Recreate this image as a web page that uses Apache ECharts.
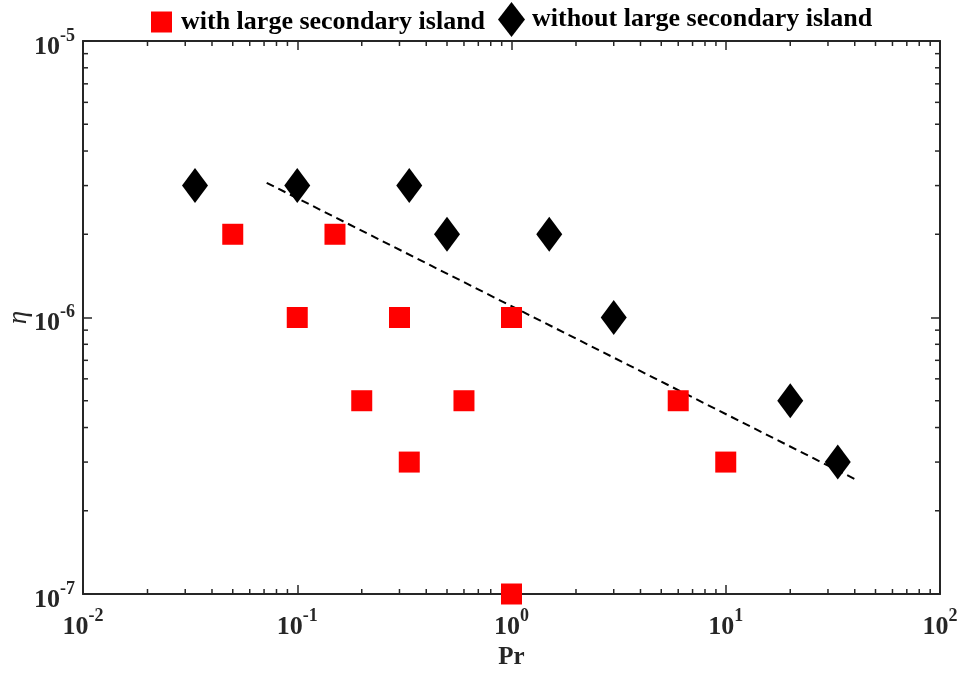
<!DOCTYPE html>
<html>
<head>
<meta charset="utf-8">
<script src="https://cdn.jsdelivr.net/npm/echarts@6/dist/echarts.min.js"></script>
<style>
  html, body { margin: 0; padding: 0; background: #fff; }
  #chart { width: 965px; height: 675px; }
</style>
</head>
<body>
<div id="chart"></div>
<script>
// Cases that develop a large secondary island
const withIslandPr  = [0.05, 0.1, 0.15, 0.2, 0.3, 0.3333, 0.6, 1, 1, 6, 10];
const withIslandEta = [2e-6, 1e-6, 2e-6, 5e-7, 1e-6, 3e-7, 5e-7, 1e-6, 1e-7, 5e-7, 3e-7];

// Cases without a large secondary island
const withoutIslandPr  = [0.03333, 0.1, 0.3333, 0.5, 1.5, 3, 20, 33.33];
const withoutIslandEta = [3e-6, 3e-6, 3e-6, 2e-6, 2e-6, 1e-6, 5e-7, 3e-7];

// Power-law boundary (dashed)
const fitPr  = [0.072, 41];
const fitEta = [3.07e-6, 2.58e-7];

// Axis ranges
const prRange  = [0.01, 100];
const etaRange = [1e-7, 1e-5];

const legendNames = ['with large secondary island', 'without large secondary island'];

const FONT = "'Liberation Serif', 'Times New Roman', serif";
const AXIS_COLOR = '#262626';

function pairs(xs, ys) { return xs.map((x, i) => [x, ys[i]]); }

function powLabel(v) {
  const e = Math.round(Math.log10(v));
  return '{b|10}{s|' + e + '}';
}
const labelRich = {
  b: { fontSize: 26, fontWeight: 'bold', fontFamily: FONT, color: '#262626', lineHeight: 40 },
  s: { fontSize: 18, fontWeight: 'bold', fontFamily: FONT, color: '#262626', lineHeight: 16, verticalAlign: 'top' }
};

// Minor tick values (2..9 within each decade)
function minorTicks(range) {
  const out = [];
  const lo = Math.round(Math.log10(range[0])), hi = Math.round(Math.log10(range[1]));
  for (let e = lo; e < hi; e++) {
    for (let m = 2; m <= 9; m++) out.push(m * Math.pow(10, e));
  }
  return out;
}
const prMinor = minorTicks(prRange);
const etaMinor = minorTicks(etaRange);

function baseAxis(range, position, showLabel) {
  return {
    type: 'log',
    logBase: 10,
    min: range[0],
    max: range[1],
    position: position,
    axisLine: { show: true, lineStyle: { color: AXIS_COLOR, width: 2 } },
    axisTick: { show: true, inside: true, length: 9, lineStyle: { color: AXIS_COLOR, width: 1.5 } },
    splitLine: { show: false },
    axisLabel: { show: showLabel, formatter: powLabel, rich: labelRich },
  };
}

const xBottom = baseAxis(prRange, 'bottom', true);
xBottom.name = 'Pr';
xBottom.nameLocation = 'middle';
xBottom.nameGap = 49;
xBottom.nameTextStyle = { fontFamily: FONT, fontSize: 25, fontWeight: 'bold', color: '#262626' };
xBottom.axisLabel.margin = 13;

const xTop = baseAxis(prRange, 'top', false);

const yLeft = baseAxis(etaRange, 'left', true);
yLeft.name = 'η';
yLeft.nameLocation = 'middle';
yLeft.nameGap = 51;
yLeft.nameMoveOverlap = false;
yLeft.nameTextStyle = { fontFamily: FONT, fontSize: 27, fontStyle: 'italic', color: '#262626' };
yLeft.axisLabel.margin = 8;
yLeft.axisLabel.padding = [12, 0, 0, 0];

const yRight = baseAxis(etaRange, 'right', false);

const legendText = { fontFamily: FONT, fontSize: 26, fontWeight: 'bold', color: '#000' };

const chart = echarts.init(document.getElementById('chart'), null, { renderer: 'canvas' });

chart.setOption({
  backgroundColor: '#ffffff',
  animation: false,
  grid: { left: 83, right: 25, top: 41, bottom: 81, containLabel: false, outerBoundsMode: 'none' },
  legend: [
    {
      data: [{ name: legendNames[0], icon: 'rect' }],
      left: 151, top: 9, padding: 0,
      itemWidth: 21, itemHeight: 21,
      textStyle: Object.assign({ padding: [0, 0, 0, 4] }, legendText),
      selectedMode: false
    },
    {
      data: [{ name: legendNames[1], icon: 'diamond' }],
      left: 498, top: 2, padding: 0,
      itemWidth: 27, itemHeight: 35,
      textStyle: Object.assign({ padding: [0, 0, 0, 2] }, legendText),
      selectedMode: false
    }
  ],
  xAxis: [xBottom, xTop],
  yAxis: [yLeft, yRight],
  series: [
    {
      type: 'custom',
      name: 'minorTicks',
      xAxisIndex: 0, yAxisIndex: 0,
      silent: true,
      data: [[1, 1e-6]],
      renderItem: function (params, api) {
        const children = [];
        const style = { stroke: AXIS_COLOR, lineWidth: 1.5 };
        const len = 5;
        prMinor.forEach(function (v) {
          const b = api.coord([v, etaRange[0]]);
          const t = api.coord([v, etaRange[1]]);
          children.push({ type: 'line', shape: { x1: b[0], y1: b[1], x2: b[0], y2: b[1] - len }, style: style });
          children.push({ type: 'line', shape: { x1: t[0], y1: t[1], x2: t[0], y2: t[1] + len }, style: style });
        });
        etaMinor.forEach(function (v) {
          const l = api.coord([prRange[0], v]);
          const r = api.coord([prRange[1], v]);
          children.push({ type: 'line', shape: { x1: l[0], y1: l[1], x2: l[0] + len, y2: l[1] }, style: style });
          children.push({ type: 'line', shape: { x1: r[0], y1: r[1], x2: r[0] - len, y2: r[1] }, style: style });
        });
        return { type: 'group', children: children };
      },
      z: 1
    },
    {
      type: 'line',
      name: 'fit',
      data: pairs(fitPr, fitEta),
      symbol: 'none',
      lineStyle: { color: '#000', width: 2, type: [8, 5] },
      silent: true,
      z: 2
    },
    {
      type: 'scatter',
      name: legendNames[0],
      data: pairs(withIslandPr, withIslandEta),
      symbol: 'rect',
      symbolSize: 21,
      itemStyle: { color: '#ff0000', opacity: 1 },
      z: 3
    },
    {
      type: 'scatter',
      name: legendNames[1],
      data: pairs(withoutIslandPr, withoutIslandEta),
      symbol: 'diamond',
      symbolSize: [26, 35],
      itemStyle: { color: '#000000', opacity: 1 },
      z: 3
    }
  ]
});
</script>
</body>
</html>
